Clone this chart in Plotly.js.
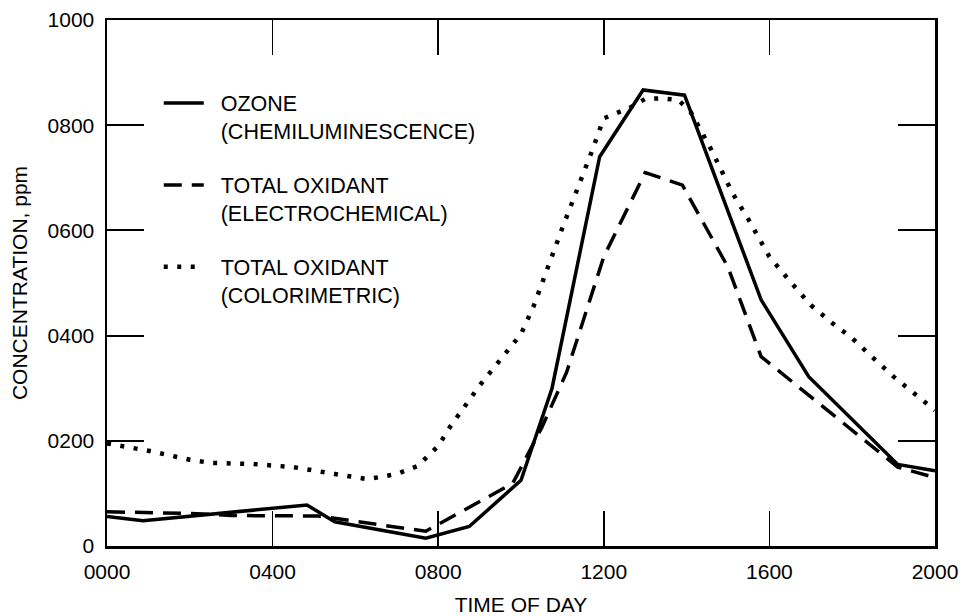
<!DOCTYPE html>
<html>
<head>
<meta charset="utf-8">
<script src="https://cdn.plot.ly/plotly-3.0.1.min.js"></script>
<style>html,body{margin:0;padding:0;background:#fff;}#chart{width:960px;height:616px;}</style>
</head>
<body>
<div id="chart"></div>
<script>
// Time of day in hours (0 = 0000, 20 = 2000), concentration in ppm (as labelled)
var ozoneHours = [0, 0.87, 4.83, 5.5, 7.7, 8.75, 10.0, 10.75, 11.9, 12.95, 13.95, 15.8, 16.95, 19.1, 20];
var ozoneValues = [56, 48, 78, 46, 15, 37, 125, 300, 740, 867, 857, 468, 322, 155, 143];

var electroHours = [0, 2, 3, 5.1, 7.7, 9.8, 10.5, 11.1, 12.0, 13.0, 13.9, 15.0, 15.8, 19.1, 20];
var electroValues = [65, 62, 58, 57, 28, 119, 225, 330, 550, 710, 686, 530, 360, 150, 130];

var colorHours = [0, 1, 2, 2.5, 3.5, 4.5, 5.5, 6.3, 7, 7.5, 8, 8.3, 9, 10, 10.3, 11, 11.7, 12, 12.3, 12.6, 13, 13.4, 13.8, 14.1, 14.6, 15.1, 15.5, 16, 16.5, 17, 17.5, 18, 18.5, 19, 19.5, 20];
var colorValues = [195, 181, 164, 158, 156, 150, 137, 127, 137, 152, 190, 228, 305, 403, 455, 605, 748, 813, 823, 832, 850, 851, 848, 825, 753, 672, 620, 550, 503, 458, 425, 395, 358, 322, 290, 258];

var seriesLine1 = ["OZONE", "TOTAL OXIDANT", "TOTAL OXIDANT"];
var seriesLine2 = ["(CHEMILUMINESCENCE)", "(ELECTROCHEMICAL)", "(COLORIMETRIC)"];

var xTickVals = [0, 4, 8, 12, 16, 20];
var xTickText = ["0000", "0400", "0800", "1200", "1600", "2000"];
var yTickVals = [0, 200, 400, 600, 800, 1000];
var yTickText = ["0", "0200", "0400", "0600", "0800", "1000"];

var FONT = "Liberation Sans, Arial, Helvetica, sans-serif";
var PAD = "\u00a0\u00a0"; // small gap between legend sample and its text

function legendName(i) { return PAD + seriesLine1[i] + "<br>" + PAD + seriesLine2[i]; }

var traces = [
  {x: ozoneHours, y: ozoneValues, name: legendName(0), mode: "lines", legendgroup: "a",
   line: {color: "#000", width: 3.5}},
  {x: electroHours, y: electroValues, name: legendName(1), mode: "lines", legendgroup: "b",
   line: {color: "#000", width: 3.5, dash: "18px,10px"}},
  {x: colorHours, y: colorValues, name: legendName(2), mode: "lines", legendgroup: "c",
   line: {color: "#000", width: 4.5, dash: "4px,9.5px"}}
];

var layout = {
  width: 960, height: 616,
  margin: {l: 107, r: 25, t: 20, b: 70},
  paper_bgcolor: "#fff", plot_bgcolor: "#fff",
  font: {family: FONT, size: 21, color: "#000"},
  showlegend: true,
  legend: {x: 0.0625, y: 0.881, xanchor: "left", yanchor: "top", bgcolor: "rgba(0,0,0,0)",
           font: {family: FONT, size: 21.5, color: "#000"}, valign: "top",
           itemwidth: 40, tracegroupgap: 23, traceorder: "grouped"},
  xaxis: {range: [0, 20], tickvals: xTickVals, ticktext: xTickText,
          ticks: "inside", ticklen: 35, tickwidth: 1.5, tickcolor: "#000",
          showline: true, linewidth: 2.5, linecolor: "#000", mirror: "ticks",
          showgrid: false, zeroline: false, ticklabelstandoff: 5,
          tickfont: {family: FONT, size: 21, color: "#000"},
          title: {text: "TIME OF DAY", font: {family: FONT, size: 21, color: "#000"}, standoff: 21}},
  yaxis: {range: [0, 1000], tickvals: yTickVals, ticktext: yTickText,
          ticks: "inside", ticklen: 37, tickwidth: 2, tickcolor: "#000",
          showline: true, linewidth: 2.5, linecolor: "#000", mirror: "ticks",
          showgrid: false, zeroline: false, ticklabelstandoff: 6,
          tickfont: {family: FONT, size: 21, color: "#000"},
          title: {text: "CONCENTRATION, ppm", font: {family: FONT, size: 21, color: "#000"}, standoff: 14}}
};

Plotly.newPlot("chart", traces, layout, {staticPlot: true, displayModeBar: false});
</script>
</body>
</html>
